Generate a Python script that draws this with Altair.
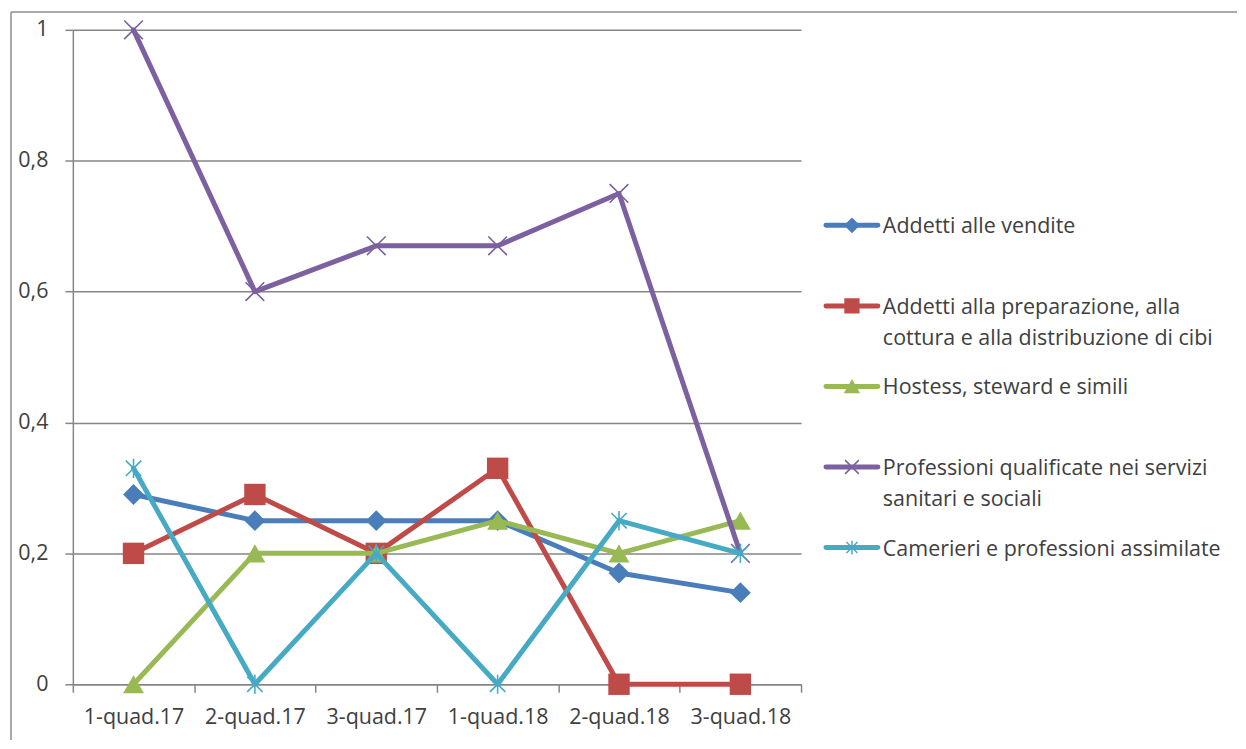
import altair as alt
import pandas as pd

# ---------------- data ----------------
categories = ["1-quad.17", "2-quad.17", "3-quad.17", "1-quad.18", "2-quad.18", "3-quad.18"]

series_names = [
    "Addetti alle vendite",
    "Addetti alla preparazione, alla cottura e alla distribuzione di cibi",
    "Hostess, steward e simili",
    "Professioni qualificate nei servizi sanitari e sociali",
    "Camerieri e professioni assimilate",
]

legend_labels = [
    "Addetti alle vendite",
    "Addetti alla preparazione, alla\ncottura e alla distribuzione di cibi",
    "Hostess, steward e simili",
    "Professioni qualificate nei servizi\nsanitari e sociali",
    "Camerieri e professioni assimilate",
]

vendite = [0.29, 0.25, 0.25, 0.25, 0.17, 0.14]
preparazione = [0.20, 0.29, 0.20, 0.33, 0.0, 0.0]
hostess = [0.0, 0.20, 0.20, 0.25, 0.20, 0.25]
professioni = [1.0, 0.60, 0.67, 0.67, 0.75, 0.20]
camerieri = [0.33, 0.0, 0.20, 0.0, 0.25, 0.20]

y_ticks = [0, 0.2, 0.4, 0.6, 0.8, 1]

series_values = [vendite, preparazione, hostess, professioni, camerieri]

# ---------------- styles ----------------
colors = ["#4A7EBB", "#BE4B48", "#98B954", "#7D60A0", "#46AAC5"]
X_PATH = "M-1,-1L1,1M-1,1L1,-1"
STAR_PATH = "M0,-1L0,1M-0.8,-0.8L0.8,0.8M-0.8,0.8L0.8,-0.8"
shapes = ["diamond", "square", "triangle-up", X_PATH, STAR_PATH]
filled = [True, True, True, False, False]
sizes = [440, 460, 440, 350, 370]

FONT = "Open Sans"
FS = 21.5
TEXT = "#404040"
GRID = "#868686"
NOFRAME = alt.ViewBackground(stroke="transparent", strokeWidth=0)

rows = []
for name, vals in zip(series_names, series_values):
    for c, v in zip(categories, vals):
        rows.append({"serie": name, "periodo": c, "valore": v})
df = pd.DataFrame(rows)

x_enc = alt.X(
    "periodo:N",
    sort=categories,
    scale=alt.Scale(type="band", domain=categories, paddingInner=0, paddingOuter=0),
    bandPosition=0.5,
    axis=alt.Axis(
        title=None, tickBand="extent", grid=False, labelAngle=0,
        domainColor=GRID, domainWidth=1.5, tickColor=GRID, tickWidth=1.5, tickSize=8,
        labelFont=FONT, labelFontSize=FS, labelColor=TEXT, labelPadding=14,
    ),
)
y_enc = alt.Y(
    "valore:Q",
    scale=alt.Scale(domain=[0, 1], nice=False),
    axis=alt.Axis(
        title=None, values=y_ticks,
        labelExpr="replace(format(datum.value, '~g'), '.', ',')",
        grid=True, gridColor=GRID, gridWidth=1.5,
        domainColor=GRID, domainWidth=1.5, tickColor=GRID, tickWidth=1.5, tickSize=8,
        labelFont=FONT, labelFontSize=FS, labelColor=TEXT, labelPadding=17,
    ),
)

layers = []
for i, name in enumerate(series_names):
    base = alt.Chart(df).transform_filter(alt.datum.serie == name)
    line = base.mark_line(
        color=colors[i], strokeWidth=5, strokeJoin="round", strokeCap="round"
    ).encode(x=x_enc, y=y_enc)
    pt = base.mark_point(
        shape=shapes[i], filled=filled[i], size=sizes[i], color=colors[i],
        strokeWidth=1.6, opacity=1,
    ).encode(x=x_enc, y=y_enc)
    layers += [line, pt]

one = pd.DataFrame({"k": [0]})
border_top = alt.Chart(one).mark_rule(color="#8c8c8c", strokeWidth=1.5).encode(
    x=alt.value(-62), x2=alt.value(1167), y=alt.value(-18)
)
border_left = alt.Chart(one).mark_rule(color="#8c8c8c", strokeWidth=1.5).encode(
    x=alt.value(-62), y=alt.value(-18), y2=alt.value(712)
)

plot = alt.layer(border_top, border_left, *layers).properties(
    width=730, height=656, view=NOFRAME
)

# ---------------- legend ----------------
leg_df = pd.DataFrame({
    "serie": series_names,
    "label": legend_labels,
    "pos": list(range(len(series_names))),
    "x0": 0.0, "x1": 1.0, "xm": 0.5,
})
lx = alt.Scale(domain=[0, 1], range=[25, 77])
ly = alt.Scale(domain=[0, 4], range=[196, 519])
cscale = alt.Scale(domain=series_names, range=colors)

leg_line = alt.Chart(leg_df).mark_rule(strokeWidth=5, strokeCap="round").encode(
    x=alt.X("x0:Q", scale=lx, axis=None),
    x2="x1:Q",
    y=alt.Y("pos:Q", scale=ly, axis=None),
    color=alt.Color("serie:N", scale=cscale, legend=None),
)
leg_pt = alt.Chart(leg_df).mark_point(filled=True, strokeWidth=1.5, opacity=1, size=190).encode(
    x=alt.X("xm:Q", scale=lx, axis=None),
    y=alt.Y("pos:Q", scale=ly, axis=None),
    shape=alt.Shape("serie:N", scale=alt.Scale(domain=series_names, range=shapes), legend=None),
    color=alt.Color("serie:N", scale=cscale, legend=None),
    stroke=alt.Stroke("serie:N", scale=cscale, legend=None),
)
leg_text = alt.Chart(leg_df).mark_text(
    align="left", baseline="alphabetic", lineBreak="\n", dx=5, dy=8,
    font=FONT, fontSize=FS, color=TEXT, lineHeight=31,
).encode(
    x=alt.X("x1:Q", scale=lx, axis=None),
    y=alt.Y("pos:Q", scale=ly, axis=None),
    text="label:N",
)
legend = alt.layer(leg_line, leg_pt, leg_text).properties(
    width=420, height=656, view=NOFRAME
)

chart = (
    alt.hconcat(plot, legend, spacing=0, bounds="flush")
    .properties(padding={"left": 2, "top": 2, "right": 0, "bottom": 0})
    .configure_view(stroke="transparent", strokeWidth=0)
    .configure(background="white")
)

chart.save("out.html", embed_options={"renderer": "svg", "actions": False})
